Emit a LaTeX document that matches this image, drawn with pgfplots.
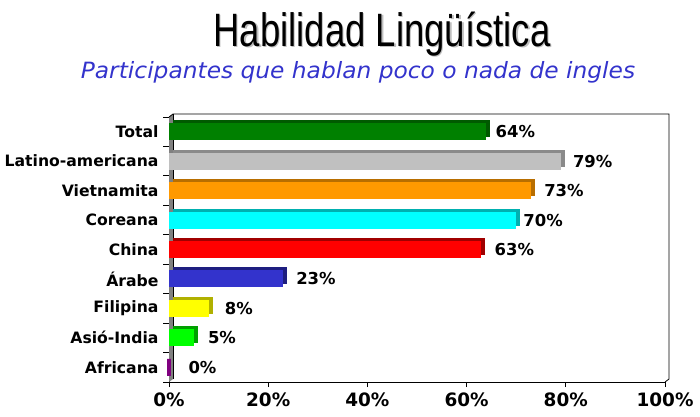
\documentclass[border=0pt]{standalone}
\usepackage{fontspec}
\setmainfont{DejaVu Sans}
\newfontfamily\titlefont[FakeStretch=0.78]{Liberation Sans}
\newfontfamily\subfont[FakeStretch=1.04]{DejaVu Sans}
\usepackage{pgfplots}
\pgfplotsset{compat=1.18}
\definecolor{cGreen}{HTML}{008000}\definecolor{dGreen}{HTML}{005A00}
\definecolor{cGray}{HTML}{C0C0C0}\definecolor{dGray}{HTML}{8A8A8A}
\definecolor{cOrange}{HTML}{FF9900}\definecolor{dOrange}{HTML}{B86E00}
\definecolor{cCyan}{HTML}{00FFFF}\definecolor{dCyan}{HTML}{00B0B0}
\definecolor{cRed}{HTML}{FF0000}\definecolor{dRed}{HTML}{A00000}
\definecolor{cBlue}{HTML}{3333CC}\definecolor{dBlue}{HTML}{1E1E80}
\definecolor{cYellow}{HTML}{FFFF00}\definecolor{dYellow}{HTML}{B0B000}
\definecolor{cLime}{HTML}{00FF00}\definecolor{dLime}{HTML}{00A000}
\definecolor{cPurple}{HTML}{800080}\definecolor{dPurple}{HTML}{500050}
\definecolor{subblue}{HTML}{3333CC}
\newcommand{\tdbar}[5]{%
  \addplot[xbar,bar width=17bp,bar shift=0pt,draw=none,fill=#4,xshift=4bp,yshift=3bp] coordinates {(#1,#2)};
  \addplot[xbar,bar width=17bp,bar shift=0pt,draw=none,fill=#3,
    nodes near coords={\pgfmathprintnumber{\pgfplotspointmeta}\%},point meta=x,
    nodes near coords style={anchor=west,inner sep=0pt,xshift=#5,text=black,font=\bfseries\fontsize{16.5}{16.5}\selectfont}] coordinates {(#1,#2)};
}
\begin{document}
\begin{tikzpicture}
\useasboundingbox (0,0) rectangle (700bp,417bp);
% title
\node[anchor=base,text=black!25] at (383.2bp,369.3bp) {\titlefont\fontsize{47}{47}\selectfont Habilidad Lingüística};
\node[anchor=base] at (382bp,370.5bp) {\titlefont\fontsize{47}{47}\selectfont Habilidad Lingüística};
\node[anchor=base,text=subblue] at (358bp,338.5bp) {\subfont\itshape\fontsize{22.5}{22.5}\selectfont Participantes que hablan poco o nada de ingles};
\begin{axis}[
  at={(169bp,35bp)},anchor=south west,
  scale only axis,width=496bp,height=265bp,
  xmin=0,xmax=100,ymin=-0.5,ymax=8.5,y dir=reverse,
  /pgf/number format/assume math mode=true,
  axis x line*=bottom,axis y line*=left,
  axis line style={black,line width=0.8bp},
  xtick={0,20,40,60,80,100},
  xticklabels={0\%,20\%,40\%,60\%,80\%,100\%},
  ytick={0,...,8},
  yticklabels={Total,Latino-americana,Vietnamita,Coreana,China,Árabe,Filipina,Asió-India,Africana},
  minor ytick={-0.5,0.5,...,8.5},
  tick align=outside,
  major tick length=5bp,minor tick length=6bp,
  y tick style={draw=none},
  minor y tick style={draw=black,line width=0.8bp},
  x tick style={black,line width=0.8bp},
  xticklabel style={font=\bfseries\fontsize{18.5}{18.5}\selectfont,yshift=-2bp},
  yticklabel style={font=\bfseries\fontsize{15.7}{15.7}\selectfont,xshift=-2bp},
  clip=false,
]
% walls
\fill[gray] (axis cs:0,8.5) -- ([xshift=4bp,yshift=3bp]axis cs:0,8.5) -- ([xshift=4bp,yshift=3bp]axis cs:0,-0.5) -- (axis cs:0,-0.5) -- cycle;
\draw[black,line width=0.8bp] ([xshift=4bp,yshift=3bp]axis cs:0,-0.5) -- ([xshift=4bp,yshift=3bp]axis cs:100,-0.5) -- ([xshift=4bp,yshift=3bp]axis cs:100,8.5) -- (axis cs:100,8.5);
\draw[black,line width=0.5bp] ([xshift=4bp,yshift=3bp]axis cs:0,8.5) -- ([xshift=4bp,yshift=3bp]axis cs:0,-0.5);
\draw[black,line width=0.8bp] (axis cs:0,-0.5) -- ([xshift=4bp,yshift=3bp]axis cs:0,-0.5);
\tdbar{64}{0}{cGreen}{dGreen}{9bp}
\tdbar{79}{1}{cGray}{dGray}{12bp}
\tdbar{73}{2}{cOrange}{dOrange}{13bp}
\tdbar{70}{3}{cCyan}{dCyan}{7bp}
\tdbar{63}{4}{cRed}{dRed}{13bp}
\tdbar{23}{5}{cBlue}{dBlue}{13bp}
\tdbar{8}{6}{cYellow}{dYellow}{16bp}
\tdbar{5}{7}{cLime}{dLime}{14bp}
\addplot[xbar,bar width=17bp,bar shift=0pt,draw=cPurple,line width=3bp,fill=cPurple,
    nodes near coords={\pgfmathprintnumber{\pgfplotspointmeta}\%},point meta=x,
    nodes near coords style={anchor=west,inner sep=0pt,xshift=18bp,text=black,font=\bfseries\fontsize{16.5}{16.5}\selectfont}] coordinates {(0,8)};
\end{axis}
\end{tikzpicture}
\end{document}
